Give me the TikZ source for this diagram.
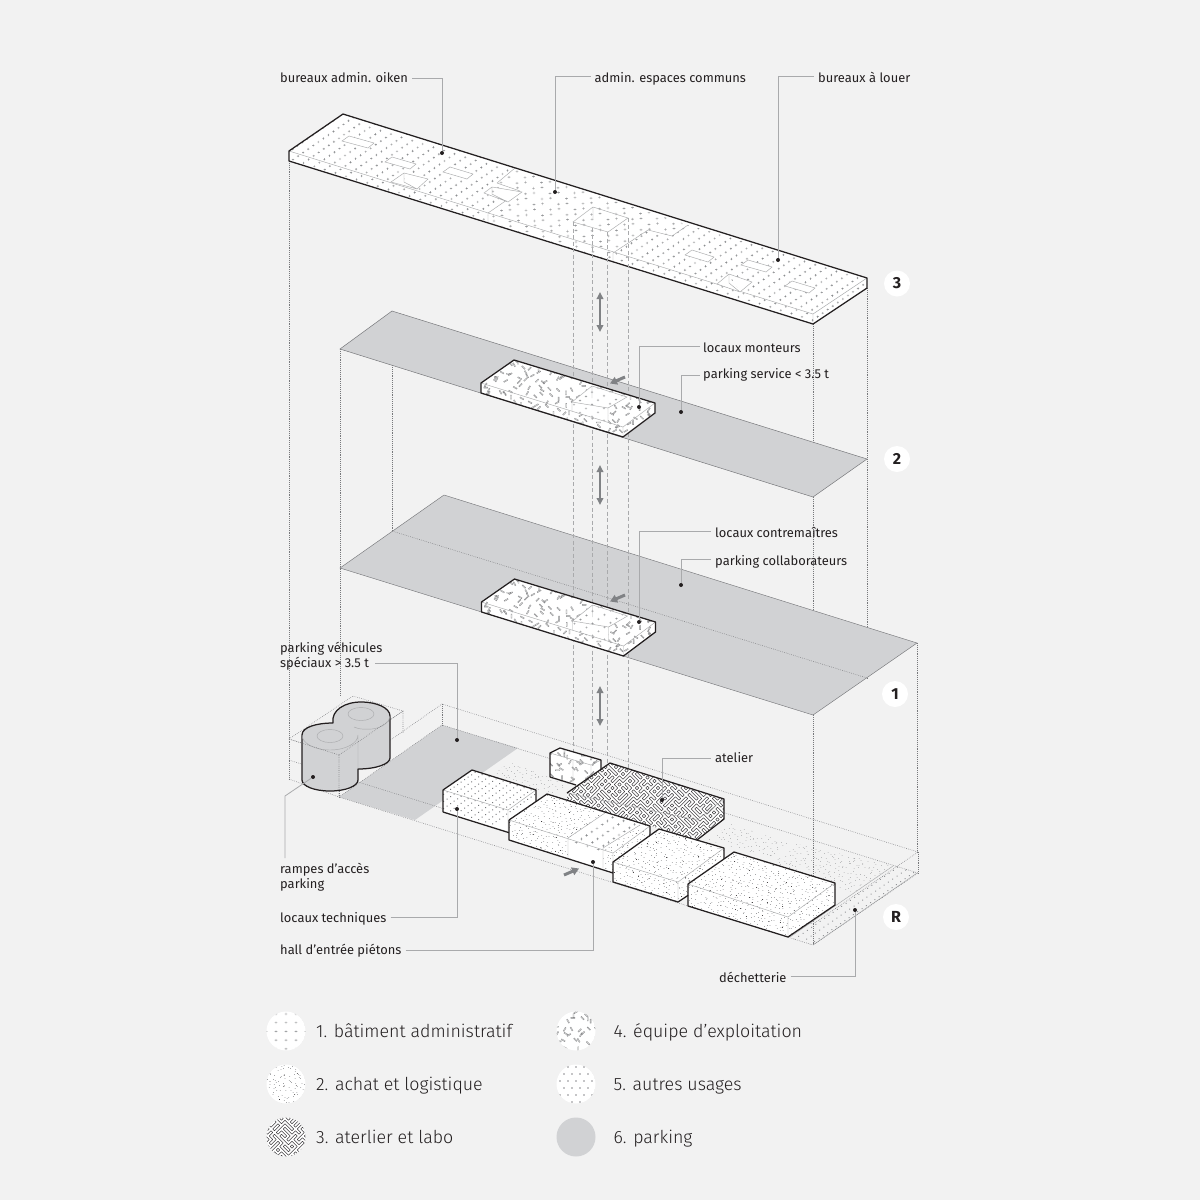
\documentclass[tikz,border=0pt]{standalone}
\usepackage{fontspec}
\setmainfont{Fira Sans}
\newfontfamily\legfont{Fira Sans Light}
\usetikzlibrary{arrows.meta}
\definecolor{bgc}{HTML}{F2F2F2}
\definecolor{park}{HTML}{D1D2D4}
\definecolor{ink}{HTML}{231F20}
\definecolor{leadc}{HTML}{A9AAAC}
\definecolor{arrc}{HTML}{808285}
\definecolor{dotc}{HTML}{77787B}
\definecolor{markc}{HTML}{808285}
\definecolor{oblc}{HTML}{8A8B8D}
\definecolor{fadec}{HTML}{A0A1A3}
\definecolor{wastec}{HTML}{939598}
\definecolor{wormc}{HTML}{414042}
% --- pseudo random stippling (values in hundredths of a px) ---
\newcount\seedv \seedv=20240611 \newcount\rs \newcount\rt \newcount\xx \newcount\yy \newcount\xc \newcount\yc
\newcount\cxb \newcount\cyb \newcount\cxa \newcount\cs
\newcount\ddx \newcount\ddy \newcount\ii \newcount\jj \newcount\dird
\newcount\gux \newcount\guy \newcount\gvx \newcount\gvy \newcount\ms
% Park-Miller generator (Schrage form); \rs is left in 0..259199
\def\nextr{\rt=\seedv \divide\rt by 127773
 \seedv=\numexpr16807*(\seedv-\rt*127773)-2836*\rt\relax
 \ifnum\seedv<0 \advance\seedv 2147483647 \fi
 \rs=\seedv \divide\rs by 8286 }
\def\PT#1#2{\pgfqpoint{\the\numexpr(#1)*65536/100\relax sp}{\the\numexpr0-(#2)*65536/100\relax sp}}
% run a body over the cells of a box (xmin xmax ymin ymax in px, cell in 1/100 px)
\def\cellrun#1#2#3#4#5#6{\def\cellbody{#6}\cxa=\numexpr100*#1\relax \cxb=\numexpr100*#2\relax \cyb=\numexpr100*#4\relax \cs=#5\relax \yc=\numexpr100*#3\relax \cellrow}
\def\cellrow{\ifnum\yc<\cyb\relax \xc=\cxa\relax \cellcol \advance\yc\cs\relax \expandafter\cellrow\fi}
\def\cellcol{\ifnum\xc<\cxb\relax \cellbody \advance\xc\cs\relax \expandafter\cellcol\fi}
\def\jitter{\nextr \xx=\numexpr\xc+\rs*\cs/259200\relax \nextr \yy=\numexpr\yc+\rs*\cs/259200\relax}
% dots
\newcommand\stipdots[7]{\begin{pgfscope}\pgfsetstrokecolor{#6}\pgfsetlinewidth{#7pt}\pgfsetroundcap
 \cellrun{#1}{#2}{#3}{#4}{#5}{\jitter\pgfpathmoveto{\PT{\xx}{\yy}}\pgfpathlineto{\PT{\xx+6}{\yy}}}%
 \pgfusepath{stroke}\end{pgfscope}}
% oblongs
\def\obldir{\nextr \dird=\numexpr\rs/32401\relax
 \ifcase\dird \ddx=400 \ddy=0 \or \ddx=280 \ddy=280 \or \ddx=0 \ddy=400 \or \ddx=-280 \ddy=280 \or \ddx=350 \ddy=200 \or \ddx=200 \ddy=350 \or \ddx=-350 \ddy=200 \or \ddx=-200 \ddy=350 \else \ddx=280 \ddy=280 \fi}
\newcommand\stipobl[7]{\begin{pgfscope}\pgfsetstrokecolor{#6}\pgfsetlinewidth{#7pt}
 \cellrun{#1}{#2}{#3}{#4}{#5}{\jitter \obldir
 \pgfpathmoveto{\PT{\xx}{\yy}}\pgfpathlineto{\PT{\xx+\ddx}{\yy+\ddy}}%
 \pgfpathlineto{\PT{\xx+\ddx-\ddy/4}{\yy+\ddy+\ddx/4}}\pgfpathlineto{\PT{\xx-\ddy/4}{\yy+\ddx/4}}\pgfpathclose}%
 \pgfusepath{stroke}\end{pgfscope}}
% maze (random tiles)
\def\tilebody{\nextr \ifnum\rs<129600
 \pgfpathmoveto{\PT{\xc+\cs/2}{\yc}}\pgfpathlineto{\PT{\xc}{\yc+\cs/2}}\pgfpathmoveto{\PT{\xc+\cs}{\yc+\cs/2}}\pgfpathlineto{\PT{\xc+\cs/2}{\yc+\cs}}%
 \else
 \pgfpathmoveto{\PT{\xc+\cs/2}{\yc}}\pgfpathlineto{\PT{\xc+\cs}{\yc+\cs/2}}\pgfpathmoveto{\PT{\xc}{\yc+\cs/2}}\pgfpathlineto{\PT{\xc+\cs/2}{\yc+\cs}}%
 \fi}
\newcommand\stipmaze[7]{\begin{pgfscope}\pgfsetstrokecolor{#6}\pgfsetlinewidth{#7pt}\pgfsetroundcap\pgfsetroundjoin
 \cellrun{#1}{#2}{#3}{#4}{#5}{\tilebody}\pgfusepath{stroke}\end{pgfscope}}
% grid of marks: set vectors, then run
\newcommand\gridv[4]{\gux=#1 \guy=#2 \gvx=#3 \gvy=#4 }
\def\gridpos{\xx=\numexpr100*\ox+\ii*\gux+\jj*\gvx\relax \yy=\numexpr100*\oy+\ii*\guy+\jj*\gvy\relax}
\def\markplus{\pgfpathrectangle{\PT{\xx-\ms}{\yy+20}}{\pgfqpoint{\the\numexpr2*\ms*65536/100\relax sp}{.4pt}}%
 \pgfpathrectangle{\PT{\xx-20}{\yy+\ms}}{\pgfqpoint{.4pt}{\the\numexpr2*\ms*65536/100\relax sp}}}
\def\markdot{\pgfpathrectangle{\PT{\xx-\ms}{\yy+\ms}}{\pgfqpoint{\the\numexpr2*\ms*65536/100\relax sp}{\the\numexpr2*\ms*65536/100\relax sp}}}
\def\gridrowb{\ifnum\ii<\rowmax\relax \gridpos\thismark \advance\ii 1 \expandafter\gridrowb\fi}
\def\gridcolb{\ifnum\jj<\colmax\relax \ii=0 \gridrowb \advance\jj 1 \expandafter\gridcolb\fi}
\newcommand\gridrun[7]{\begin{pgfscope}\pgfsetfillcolor{#6}\ms=#5 \let\thismark#7\def\ox{#1}\def\oy{#2}\def\rowmax{#3}\def\colmax{#4}%
 \jj=0 \gridcolb \pgfusepath{fill}\end{pgfscope}}
\tikzset{
 lead/.style={draw=leadc,line width=.8pt},
 thinl/.style={draw=leadc,line width=.45pt},
 outl/.style={draw=ink,line width=1.25pt,line join=round},
 dotl/.style={draw=dotc,line width=.55pt,dash pattern=on .6pt off 1.3pt},
 dashl/.style={draw=leadc,line width=.7pt,dash pattern=on 4pt off 2.5pt},
 plate/.style={fill=park,draw=dotc,line width=.5pt},
 lab/.style={anchor=west,inner sep=0pt,text=ink,text height=9.5pt,text depth=3pt,font=\fontsize{12.9}{15.5}\selectfont},
 labm/.style={anchor=west,inner sep=0pt,text=ink,align=left,font=\fontsize{12.9}{15.5}\selectfont},
 leg/.style={anchor=west,inner sep=0pt,text=ink,text height=13pt,text depth=4pt,font=\fontsize{17.8}{20}\legfont},
 dotn/.style={circle,fill=ink,inner sep=0pt,minimum size=4pt},
 badge/.style={circle,fill=white,inner sep=0pt,minimum size=26pt,text=ink,font=\fontsize{16}{16}\selectfont\bfseries},
 dbl/.style={draw=arrc,line width=2pt,{Triangle[width=6.5pt,length=7pt]}-{Triangle[width=6.5pt,length=7pt]}},
 sarr/.style={draw=arrc,line width=3pt,-{Triangle[width=8pt,length=7pt]}}
}
% box of level 2 / 1 (same drawing, shifted)
\newcommand\techbox{%
 \begin{scope}
  \clip (481,383)--(514,360)--(655,403)--(655,413)--(623,437)--(481,393)--cycle;
  \fill[white] (470,350) rectangle (670,445);
  \stipobl{475}{660}{355}{440}{720}{oblc}{.35}
 \end{scope}
 \begin{scope}
  \clip (572,402)--(592,386)--(627,397)--(608,408)--(608,422)--(572,411)--cycle;
  \fill[white] (560,380) rectangle (640,425);
  \gridv{1200}{375}{-600}{420}
  \gridrun{592}{380}{5}{7}{120}{markc}{\markplus}
 \end{scope}
 \draw[thinl] (481,383)--(623,427)--(655,403) (623,427)--(623,437);
 \draw[thinl] (572,402)--(592,386)--(627,397)--(608,408)--cycle (572,402)--(572,411) (608,408)--(608,422) (592,386)--(592,398);
 \draw[outl] (481,383)--(514,360)--(655,403)--(655,413)--(623,437)--(481,393)--cycle;
}
\begin{document}
\begin{tikzpicture}[x=1pt,y=-1pt]
\useasboundingbox (0,0) rectangle (1200,1200);
\fill[bgc] (0,0) rectangle (1200,1200);
% ---- dotted verticals
\draw[dotl] (289,161)--(289,779) (340,349)--(340,696) (392,365)--(392,531) (813,324)--(813,945) (867,288)--(867,678) (917,643)--(917,853);
% ---- plates
\draw[plate] (392,311)--(867,459)--(813,497)--(340,349)--cycle;
\fill[park] (444,495)--(917,643)--(813,715)--(340,568)--cycle;
\draw[thinl,draw=dotc] (444,495)--(917,643)--(813,715)--(340,568)--cycle;
\draw[dotl] (392,531)--(867,678);
% ---- floor R
\begin{scope}
 \clip (493,775)--(508,762)--(572,782)--(552,795)--cycle;
 \stipdots{490}{575}{760}{797}{420}{fadec}{.6}
\end{scope}
\begin{scope}
 \clip (732,824)--(788,843)--(770,858)--(707,840)--cycle;
 \stipdots{705}{790}{822}{860}{420}{fadec}{.6}
\end{scope}
\begin{scope}
 \clip (797,844)--(893,866)--(855,893)--(835,886)--(772,862)--cycle;
 \stipdots{770}{895}{842}{895}{420}{fadec}{.6}
\end{scope}
\begin{scope}
 \clip (893,866)--(918,873)--(813,945)--(788,937)--(835,905)--cycle;
 \gridv{800}{260}{-430}{300}
 \gridrun{860}{820}{16}{36}{50}{wastec}{\markdot}
\end{scope}
\draw[thinl] (893,866)--(790,937) (917,873)--(813,945);
\draw[plate,draw=none] (339,797)--(442,725)--(518,748)--(415,820)--cycle;
\draw[dotl] (339,797)--(442,725)--(918,873)--(813,945)--cycle;
\draw[dotl] (339,776)--(442,704)--(918,852)--(813,924)--cycle;
\draw[dotl] (442,704)--(442,725) (918,852)--(918,873) (339,776)--(339,797);
% cylinder frame (behind)
\draw[dotl] (289,739)--(353,696)--(403,711)--(339,755)--cycle (403,711)--(403,733) (339,755)--(339,797) (289,779)--(339,797) (289,760)--(339,776);
% ---- ramps
\draw[fill=park,draw=ink,line width=1.25pt,line join=round]
 (302,735) .. controls (302,727) and (317,723) .. (333,723)
 .. controls (331,710) and (345,702) .. (361,702)
 .. controls (377,702) and (390,708) .. (390,716)
 -- (390,758) .. controls (390,764) and (376,769) .. (358,769)
 -- (358,780) .. controls (358,786) and (346,791) .. (330,791)
 .. controls (314,791) and (302,786) .. (302,780) -- cycle;
\draw[thinl] (302,735) .. controls (302,743) and (314,750) .. (330,750) .. controls (346,750) and (358,743) .. (358,735) -- (358,769);
\draw[thinl] (354,727) .. controls (360,730) and (366,729) .. (372,729) .. controls (382,728) and (390,722) .. (390,716);
\draw[thinl] (330,736) ellipse [x radius=13,y radius=6.5] (361,714) ellipse [x radius=13,y radius=6.5];
\draw[dotl] (289,739)--(339,755)--(403,711) (339,755)--(339,791);
% ---- top slab
\begin{scope}
 \clip (343,114)--(867,278)--(867,288)--(813,324)--(289,161)--(289,151)--cycle;
 \fill[white] (280,105) rectangle (875,330);
 \begin{scope}
  \clip (343,114)--(515,168)--(497,183)--(520,191)--(488,213)--(488,223)--(280,165)--(280,100)--cycle;
  \gridv{1060}{331}{-505}{353}
  \gridrun{343}{114}{22}{14}{110}{markc}{\markplus}
 \end{scope}
 \begin{scope}
  \clip (515,168)--(688,225)--(672,236)--(648,230)--(613,253)--(613,265)--(488,223)--(488,213)--(520,191)--(497,183)--cycle;
  \gridv{1650}{515}{-800}{560}
  \gridrun{500}{150}{13}{14}{130}{markc}{\markplus}
  \gridrun{508}{156}{13}{14}{130}{markc}{\markplus}
 \end{scope}
 \begin{scope}
  \clip (688,225)--(867,278)--(867,288)--(813,324)--(613,265)--(613,253)--(648,230)--(672,236)--cycle;
  \gridv{1060}{331}{-505}{353}
  \gridrun{640}{205}{24}{16}{110}{markc}{\markplus}
 \end{scope}
\end{scope}
\draw[thinl] (289,151)--(813,314)--(867,278) (813,314)--(813,324) (488,213)--(488,223) (613,253)--(613,263);
\draw[thinl] (488,213)--(520,191) (497,183)--(515,168) (497,183)--(520,191) (613,253)--(648,230)--(672,236)--(688,225);
\foreach \a/\b/\c/\d in {349/136/374/143,392/157/416/164,450/167/473/174,692/250/714/257,748/260/772/267,792/281/815/288}{
 \draw[thinl,fill=white] (\a,\b)--(\c,\d)--(\c-6,\d+5)--(\a-7,\b+5)--cycle;}
\draw[thinl,fill=white] (404,173)--(428,179)--(417,189)--(391,182)--cycle (404,173)--(404,182)--(417,189);
\draw[thinl,fill=white] (492,187)--(522,192)--(508,202)--(484,193)--cycle (492,187)--(492,194)--(508,202);
\draw[thinl,fill=white] (729,274)--(752,282)--(740,292)--(717,284)--cycle (729,274)--(729,283)--(740,292);
\draw[thinl] (573,222)--(593,207)--(628,218)--(608,232)--cycle (593,207)--(593,220);
\draw[outl] (343,114)--(867,278)--(867,288)--(813,324)--(289,161)--(289,151)--cycle;
% ---- dashed shaft
\draw[dashl] (573,222)--(573,760) (592.5,228)--(592.5,752) (607.5,232)--(607.5,770) (628,218)--(628,770);
% ---- double arrows
\coordinate (a1t) at (600,292); \coordinate (a1b) at (600,332);
\coordinate (a2t) at (600,465); \coordinate (a2b) at (600,505);
\coordinate (a3t) at (600,686); \coordinate (a3b) at (600,726);
\draw[dbl] (a1t)--(a1b); \draw[dbl] (a2t)--(a2b); \draw[dbl] (a3t)--(a3b);
% ---- level boxes
\techbox
\begin{scope}[yshift=-219pt,xshift=.5pt]\techbox\end{scope}
\coordinate (s1a) at (625,377); \coordinate (s1b) at (610,383.5);
\coordinate (s2a) at (625,595); \coordinate (s2b) at (610,601.5);
\coordinate (s3a) at (564,875); \coordinate (s3b) at (579,868.5);
\draw[sarr] (s1a)--(s1b); \draw[sarr] (s2a)--(s2b); \draw[sarr] (s3a)--(s3b);
% ---- R boxes
% small F
\begin{scope}
 \clip (550,753)--(560,748)--(601,760)--(601,775)--(576,785)--(550,777)--cycle;
 \fill[white] (545,745) rectangle (605,790);
 \stipobl{545}{605}{745}{790}{720}{oblc}{.35}
\end{scope}
\draw[thinl] (550,753)--(591,765)--(601,760) (591,765)--(591,778) (573,760)--(573,784);
\draw[outl] (550,777)--(550,753)--(560,748)--(601,760)--(601,775) (550,777)--(576,785);
% atelier E
\begin{scope}
 \clip (567,793)--(610,763)--(724,799)--(724,819)--(697,840)--(567,800)--cycle;
 \fill[white] (560,760) rectangle (730,845);
 \stipmaze{560}{730}{760}{845}{350}{wormc}{.42}
\end{scope}
\draw[thinl] (567,793)--(697,820)--(724,799);
\draw[outl] (567,793)--(610,763)--(724,799)--(724,819)--(697,840);
% A
\begin{scope}
 \clip (443,790)--(472,770)--(536,790)--(536,812)--(508,831)--(443,812)--cycle;
 \fill[white] (440,765) rectangle (540,835);
 \gridv{700}{220}{-350}{245}
 \gridrun{440}{740}{18}{28}{50}{dotc}{\markdot}
\end{scope}
\draw[thinl] (443,790)--(508,810)--(536,790) (508,810)--(508,831);
\draw[outl] (443,812)--(443,790)--(472,770)--(536,790)--(536,812) (443,812)--(510,833);
% B
\begin{scope}
 \clip (509,820)--(547,794)--(650,826)--(650,846)--(613,873)--(509,840)--cycle;
 \fill[white] (505,790) rectangle (655,880);
 \stipdots{505}{655}{790}{880}{420}{dotc}{.6}
 \stipdots{505}{655}{790}{880}{1300}{ink}{.8}
\end{scope}
\begin{scope}
 \clip (568,838)--(605,813)--(640,825)--(603,848)--(603,868)--(568,858)--cycle;
 \fill[white] (560,810) rectangle (645,870);
 \gridv{1100}{340}{-520}{360}
 \gridrun{590}{800}{6}{10}{130}{markc}{\markplus}
\end{scope}
\draw[thinl] (509,820)--(613,853)--(650,826) (568,838)--(605,813) (603,848)--(640,825) (568,838)--(568,858) (603,848)--(603,868) (613,853)--(613,873);
\draw[outl] (509,820)--(547,794)--(650,826)--(650,846) (509,820)--(509,840)--(613,873);
% C
\begin{scope}
 \clip (613,862)--(659,829)--(724,848)--(724,870)--(678,902)--(613,882)--cycle;
 \fill[white] (610,825) rectangle (730,905);
 \stipdots{610}{730}{825}{905}{420}{dotc}{.6}
 \stipdots{610}{730}{825}{905}{1300}{ink}{.8}
\end{scope}
\draw[thinl] (613,862)--(678,882)--(724,848) (678,882)--(678,902);
\draw[outl] (613,882)--(613,862)--(659,829)--(724,848)--(724,868) (613,882)--(678,902)--(690,894);
% D
\begin{scope}
 \clip (688,884)--(734,852)--(835,883)--(835,905)--(788,937)--(688,906)--cycle;
 \fill[white] (685,848) rectangle (840,940);
 \stipdots{685}{840}{848}{940}{420}{dotc}{.6}
 \stipdots{685}{840}{848}{940}{1300}{ink}{.8}
\end{scope}
\draw[thinl] (688,884)--(788,917)--(835,883) (788,917)--(788,937);
\draw[outl] (688,884)--(734,852)--(835,883)--(835,905)--(788,937)--(688,906)--cycle;
% ---- labels, dots, leaders
\node[lab] (l1) at (280,78.75) {bureaux admin. oiken};
\node[lab] (l2) at (594.5,78.75) {admin. espaces communs};
\node[lab] (l3) at (818,78.75) {bureaux à louer};
\node[lab] (l4) at (703,348.75) {locaux monteurs};
\node[lab] (l5) at (703,374.75) {parking service < 3.5 t};
\node[lab] (l6) at (715,533.75) {locaux contremaîtres};
\node[lab] (l7) at (715,561.75) {parking collaborateurs};
\node[labm] (l8) at (280,656) {parking véhicules\\spéciaux > 3.5 t};
\node[labm] (l9) at (280,877) {rampes d’accès\\parking};
\node[lab] (l10) at (280,918.75) {locaux techniques};
\node[lab] (l11) at (280,950.75) {hall d’entrée piétons};
\node[lab] (l12) at (715,758.75) {atelier};
\node[lab] (l13) at (719,978.75) {déchetterie};
\node[dotn] (d1) at (442,153) {};
\node[dotn] (d2) at (555,192) {};
\node[dotn] (d3) at (778,260) {};
\node[dotn] (d4) at (639,407) {};
\node[dotn] (d5) at (681,412) {};
\node[dotn] (d6) at (639,622) {};
\node[dotn] (d7) at (681,585) {};
\node[dotn] (d8) at (457,740) {};
\node[dotn] (d9) at (313,777) {};
\node[dotn] (d10) at (457,809) {};
\node[dotn] (d11) at (593,862) {};
\node[dotn] (d12) at (662,800) {};
\node[dotn] (d13) at (855,910) {};
\coordinate (c8) at (375,663); \coordinate (c9) at (285,858); \coordinate (c9b) at (285,796);
\draw[lead] ([xshift=4pt]l1.east) -| (d1);
\draw[lead] ([xshift=-4pt,yshift=2pt]l2.west) -| (d2);
\draw[lead] ([xshift=-4pt,yshift=2pt]l3.west) -| (d3);
\draw[lead] ([xshift=-3pt,yshift=2pt]l4.west) -| (d4);
\draw[lead] ([xshift=-3pt,yshift=-1pt]l5.west) -| (d5);
\draw[lead] ([xshift=-4pt,yshift=2pt]l6.west) -| (d6);
\draw[lead] ([xshift=-4pt,yshift=2pt]l7.west) -| (d7);
\draw[lead] (c8) -| (d8);
\draw[lead] (c9) -- (c9b) -- (d9);
\draw[lead] ([xshift=4pt,yshift=1pt]l10.east) -| (d10);
\draw[lead] ([xshift=4pt]l11.east) -| (d11);
\draw[lead] ([xshift=-4pt]l12.west) -| (d12);
\draw[lead] ([xshift=4pt,yshift=2pt]l13.east) -| (d13);
% ---- badges
\node[badge] (b3) at (897,283.5) {3};
\node[badge] (b2) at (897,459) {2};
\node[badge] (b1) at (895,694) {1};
\node[badge] (bR) at (896,917) {R};
% ---- legend
\begin{scope}\clip (286,1031) circle [radius=19.5];
 \fill[white] (286,1031) circle [radius=19.5];
 \gridv{1000}{0}{0}{870}\gridrun{266}{1014}{5}{5}{130}{markc}{\markplus}\end{scope}
\begin{scope}\clip (286,1084) circle [radius=19.5];
 \fill[white] (286,1084) circle [radius=19.5];
 \stipdots{266}{306}{1064}{1104}{420}{dotc}{.6}
 \stipdots{266}{306}{1064}{1104}{1300}{ink}{.8}\end{scope}
\begin{scope}\clip (286,1137) circle [radius=19.5];
 \fill[white] (286,1137) circle [radius=19.5];
 \stipmaze{264}{308}{1115}{1159}{350}{wormc}{.42}\end{scope}
\begin{scope}\clip (576,1031) circle [radius=19.5];
 \fill[white] (576,1031) circle [radius=19.5];
 \stipobl{554}{598}{1009}{1053}{720}{oblc}{.35}\end{scope}
\begin{scope}\clip (576,1084) circle [radius=19.5];
 \fill[white] (576,1084) circle [radius=19.5];
 \gridv{800}{0}{400}{700}\gridrun{540}{1060}{9}{8}{60}{dotc}{\markdot}\end{scope}
\fill[park] (576,1137) circle [radius=19.5];
\node[leg] (t1) at (316,1032.8) {1. bâtiment administratif};
\node[leg] (t2) at (316,1085.8) {2. achat et logistique};
\node[leg] (t3) at (316,1138.8) {3. aterlier et labo};
\node[leg] (t4) at (613.5,1032.8) {4. équipe d’exploitation};
\node[leg] (t5) at (613.5,1085.8) {5. autres usages};
\node[leg] (t6) at (613.5,1138.8) {6. parking};
\end{tikzpicture}
\end{document}
